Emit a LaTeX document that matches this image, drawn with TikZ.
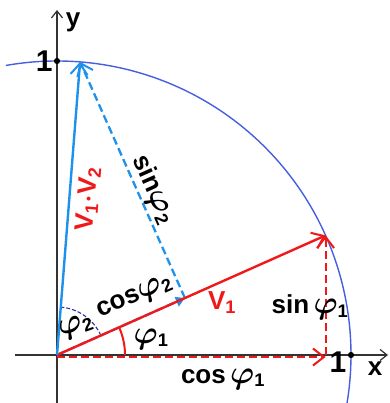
\documentclass[tikz,border=0pt]{standalone}
\usepackage{fontspec}
\setmainfont{Liberation Sans}
\usepackage{bm}
\usepackage{tikz}
\usetikzlibrary{arrows.meta}
\usepackage{xcolor}
\definecolor{vecred}{RGB}{240,25,25}
\definecolor{vecblue}{RGB}{30,145,235}
\definecolor{circblue}{RGB}{70,95,225}
\definecolor{arcblue}{RGB}{40,50,170}
\newcommand{\fii}[1]{\scalebox{1.3}{$\bm{\varphi}$}\textsubscript{#1}}

\begin{document}
\begin{tikzpicture}[x=1pt,y=1pt,
  lbl/.style={font=\fontsize{26}{30}\selectfont\bfseries, inner sep=1pt},
  big/.style={font=\fontsize{30}{32}\selectfont\bfseries, inner sep=1pt},
  barb/.style={-{Straight Barb[length=11pt,width=17pt,line width=2pt]}},
  dsh/.style={dash pattern=on 8pt off 4pt},
  axis/.style={line width=1.4pt, black!80, -{Straight Barb[length=7pt,width=11pt,line width=1.2pt]}},
  dot/.style={circle, fill=black, inner sep=2.2pt}]
  \useasboundingbox (-57,-48) rectangle (332,355);
  % points
  \coordinate (O) at (0,0);
  \coordinate (A) at (24:294);
  \coordinate (B) at (85.5:294);
  \coordinate (P) at (24:140);
  \coordinate (Q) at (A |- O);
  \coordinate (xl) at (-42,0);
  \coordinate (xr) at (331,0);
  \coordinate (yb) at (0,-48);
  \coordinate (yt) at (0,345);
  % unit circle
  \draw[circblue, line width=1.4pt] (100:294) arc (100:-9.4:294);
  % axes
  \draw[axis] (xl) -- (xr);
  \draw[axis] (yb) -- (yt);
  \node[dot] (ex) at (294,0) {};
  \node[dot] (ey) at (0,294) {};
  \node[big] (one x) at (281,-7) {1};
  \node[big, anchor=east] (one y) at (ey.west) {1};
  \node[lbl] (x) at (318,-14) {x};
  \node[lbl] (y) at (16,333) {y};
  % projections of V1
  \draw[vecred, line width=2pt, dsh, barb] ([yshift=-2pt]O) -- ([yshift=-2pt]Q);
  \draw[vecred, line width=2pt, dsh, barb] (Q) -- (A);
  % angles
  \draw[vecred, line width=2pt] (68,0) arc (0:24:68);
  \draw[arcblue, line width=1.1pt, dash pattern=on 4pt off 2pt] (24:48) arc (24:85.5:48);
  % projections of V2
  \draw[vecblue, line width=2.3pt, dsh, -{Triangle[length=9pt,width=10pt]}] (O) -- (P);
  \draw[vecblue, line width=2.3pt, dsh, barb] (P) -- (B);
  % vectors
  \draw[vecred, line width=2.4pt, barb] (O) -- (A);
  \draw[vecblue, line width=2.4pt, barb] (O) -- (B);
  % labels
  \node[lbl, text=vecred, rotate=85.5] (v12) at (31,156) {V\textsubscript{1}$\bm{\cdot}$V\textsubscript{2}};
  \node[lbl, rotate=-66] (s2) at (96,165) {sin\fii{2}};
  \node[lbl, rotate=24] (c2) at (78,57) {cos\fii{2}};
  \node[lbl, rotate=20] (f2) at (19,28) {\fii{2}};
  \node[lbl] (f1) at (94,16) {\fii{1}};
  \node[lbl, text=vecred] (v1) at (165,52) {V\textsubscript{1}};
  \node[lbl] (s1) at (253,48) {sin\,\fii{1}};
  \node[lbl] (c1) at (166,-24) {cos\,\fii{1}};
\end{tikzpicture}
\end{document}
